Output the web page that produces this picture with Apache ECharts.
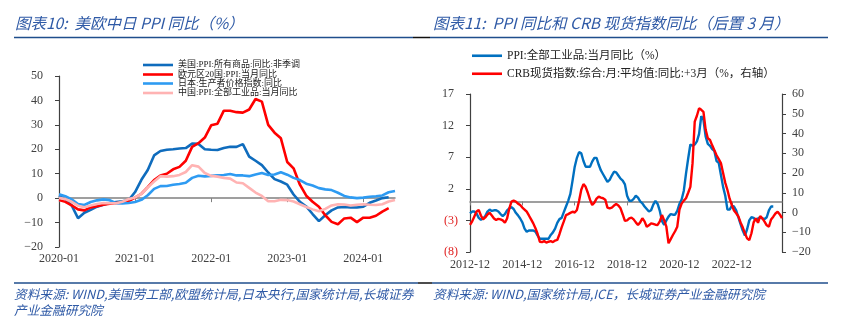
<!DOCTYPE html>
<html><head><meta charset="utf-8">
<script src="https://cdn.jsdelivr.net/npm/echarts@6/dist/echarts.min.js"></script>
<style>html,body{margin:0;padding:0;background:#fff}#c{width:842px;height:325px}</style>
</head><body><div id="c"></div>
<script>
// ---------- categories ----------
function monthRange(y0, m0, y1, m1) {
  const out = [];
  let y = y0, m = m0;
  while (y < y1 || (y === y1 && m <= m1)) {
    out.push(y + '-' + (m < 10 ? '0' + m : '' + m));
    m++; if (m > 12) { m = 1; y++; }
  }
  return out;
}
const leftMonths = monthRange(2020, 1, 2024, 6);    // 54 months
const rightMonths = monthRange(2012, 12, 2024, 11); // 144 months

// ---------- left chart data (%) ----------
const usPPI = [1.0, -0.5, -3.0, -8.2, -6.0, -4.8, -3.5, -2.7, -2.0, -1.6, -1.3, -0.8,
  2.5, 7.5, 11.5, 17.5, 19.3, 19.8, 20.0, 20.3, 20.5, 22.3, 22.2, 20.0,
  19.8, 19.7, 20.5, 21.0, 21.0, 22.1, 17.0, 15.3, 13.5, 10.5, 7.8, 6.8,
  5.5, 1.5, -1.5, -3.4, -6.5, -9.4, -7.0, -5.0, -3.8, -3.6, -3.8, -3.8,
  -3.5, -1.9, -1.0, 0.0, 0.4];
const euroPPI = [-0.8, -1.5, -3.0, -4.6, -5.0, -3.8, -3.3, -2.7, -2.3, -2.0, -1.9, -1.2,
  0.2, 1.8, 4.5, 7.4, 9.3, 10.0, 11.8, 12.8, 15.3, 21.0, 22.5, 24.8,
  29.8, 30.5, 35.8, 35.8, 35.2, 35.0, 36.3, 40.6, 39.5, 30.0, 26.8, 24.5,
  14.8, 12.2, 5.5, 1.0, -1.5, -3.5, -7.0, -9.7, -10.7, -8.3, -8.0, -9.8,
  -8.0, -8.0, -7.2, -5.5, -4.1];
const japanPPI = [1.6, 0.8, -0.5, -2.4, -2.8, -1.6, -0.9, -0.5, -0.8, -2.1, -2.2, -2.0,
  -1.6, -0.7, 1.2, 3.8, 4.9, 5.0, 5.5, 5.8, 6.3, 8.3, 9.2, 8.9,
  9.1, 9.4, 9.5, 9.9, 9.3, 9.3, 9.0, 9.7, 10.3, 9.5, 9.7, 10.6,
  9.6, 8.3, 7.4, 5.9, 5.2, 4.1, 3.6, 3.3, 2.2, 0.9, 0.3, 0.0,
  0.2, 0.6, 0.8, 1.1, 2.4, 2.9];
const chinaPPI = [0.1, -0.4, -1.5, -3.1, -3.7, -3.0, -2.4, -2.0, -2.1, -2.1, -1.5, -0.4,
  0.3, 1.7, 4.4, 6.8, 9.0, 8.8, 9.0, 9.5, 10.7, 13.5, 12.9, 10.3,
  9.1, 8.8, 8.3, 8.0, 6.4, 6.1, 4.2, 2.3, 0.9, -1.3, -1.3, -0.7,
  -0.8, -1.4, -2.5, -3.6, -4.6, -5.4, -4.4, -3.0, -2.5, -2.6, -3.0, -2.7,
  -2.5, -2.7, -2.8, -2.5, -1.4, -0.8];

// ---------- right chart data ----------
const ppiAll = [-1.9,
  -1.6, -1.6, -1.9, -2.6, -2.9, -2.7, -2.3, -1.6, -1.3, -1.5, -1.4, -1.4,
  -1.6, -2.0, -2.3, -2.0, -1.4, -1.1, -0.9, -1.2, -1.8, -2.2, -2.7, -3.3,
  -4.3, -4.8, -4.6, -4.6, -4.6, -4.8, -5.4, -5.9, -5.9, -5.9, -5.9, -5.9,
  -5.3, -4.9, -4.3, -3.4, -2.8, -2.6, -1.7, -0.8, 0.1, 1.2, 3.3, 5.5,
  6.9, 7.8, 7.6, 6.4, 5.5, 5.5, 5.5, 6.3, 6.9, 6.9, 5.8, 4.9,
  4.3, 3.7, 3.1, 3.4, 4.1, 4.7, 4.6, 4.1, 3.6, 3.3, 2.7, 0.9,
  0.1, 0.1, 0.4, 0.9, 0.6, 0.0, -0.3, -0.8, -1.2, -1.6, -1.4, -0.5,
  0.1, -0.4, -1.5, -3.1, -3.7, -3.0, -2.4, -2.0, -2.1, -2.1, -1.5, -0.4,
  0.3, 1.7, 4.4, 6.8, 9.0, 8.8, 9.0, 9.5, 10.7, 13.5, 12.9, 10.3,
  9.1, 8.8, 8.3, 8.0, 6.4, 6.1, 4.2, 2.3, 0.9, -1.3, -1.3, -0.7,
  -0.8, -1.4, -2.5, -3.6, -4.6, -5.4, -4.4, -3.0, -2.5, -2.6, -3.0, -2.7,
  -2.5, -2.7, -2.8, -2.5, -1.4, -0.8, -0.8];
const crbSpot = [-6.3, -4.5, -2.0, 0.5, 1.3, -1.5, -3.5, -2.5, -1.0, -0.1, -1.5, -3.0,
  -3.8, -3.2, -3.5, -4.0, -5.2, -3.0, 2.0, 5.5, 6.0, 5.5, 4.5, 3.8,
  2.5, 1.5, 0.4, -1.5, -3.5, -5.5, -8.0, -10.9, -14.8, -15.0, -14.5, -15.2,
  -14.8, -14.5, -15.0, -14.2, -13.9, -11.0, -7.5, -4.5, -1.3, -0.8, -0.2, 0.4,
  0.0, 1.3, 6.0, 11.5, 14.4, 13.0, 10.0, 6.5, 3.8, 5.0, 7.0, 8.0,
  7.5, 7.2, 6.5, 2.5, 2.1, 2.5, 3.5, 4.3, 3.5, 2.1, -1.0, -4.2,
  -4.0, -3.0, -2.6, -3.5, -5.0, -6.3, -5.0, -2.9, -4.5, -7.2, -6.5, -5.5,
  -5.8, -6.2, -6.3, -4.5, -1.3, -4.0, -7.2, -15.6, -13.5, -11.4, -9.5, -7.2,
  1.5, 4.5, 6.0, 7.2, 10.0, 13.0, 25.0, 46.0, 49.0, 52.8, 52.0, 51.0,
  42.0, 37.6, 36.7, 34.0, 31.5, 29.0, 27.0, 25.0, 20.0, 15.0, 11.4, 7.0,
  3.8, 1.0, -0.4, -2.0, -5.0, -7.5, -10.5, -13.1, -14.0, -10.5, -5.0, -2.9,
  -5.2, -1.8, -3.0, -4.6, -6.5, -7.2, -3.5, -2.1, -0.5, 0.4, -1.0, -2.9];

// ---------- names / text ----------
const leftNames = ['美国:PPI:所有商品:同比:非季调', '欧元区20国:PPI:当月同比', '日本:生产者价格指数:同比', '中国:PPI:全部工业品:当月同比'];
const rightNames = ['PPI:全部工业品:当月同比（%）', 'CRB现货指数:综合:月:平均值:同比:+3月（%，右轴）'];
const leftTitle = '图表10:  美欧中日 PPI 同比（%）';
const rightTitle = '图表11:  PPI 同比和 CRB 现货指数同比（后置 3 月）';
const leftSource1 = '资料来源: WIND,美国劳工部,欧盟统计局,日本央行,国家统计局,长城证券';
const leftSource2 = '产业金融研究院';
const rightSource = '资料来源: WIND,国家统计局,ICE，长城证券产业金融研究院';

const SERIF = "'Liberation Serif','Noto Sans CJK SC',serif";
const CJK = "'Noto Sans CJK SC',sans-serif";
const LBL = '#404040';
const AX = '#404040';
const ZERO = '#808080';
const TITLE_C = '#2F5AA6';
const RULE_C = '#1F4E8C';

const leftColors = ['#0F6CBD', '#FF0000', '#2E9BF2', '#FFB3B3'];
const rightColors = ['#0070C0', '#FF0000'];

const minus = v => (v < 0 ? '\u2212' + Math.abs(v) : '' + v);

function legendItem(name, left, top, fs, w) {
  return {
    data: [name], left: left, top: top, orient: 'horizontal',
    icon: 'rect', itemWidth: w, itemHeight: 2.6, padding: 0,
    selectedMode: false,
    textStyle: { fontSize: fs, fontFamily: SERIF, color: '#222', lineHeight: fs,
      width: 274, overflow: 'truncate', ellipsis: '' }
  };
}

const chart = echarts.init(document.getElementById('c'), null, { renderer: 'canvas' });
chart.setOption({
  animation: false,
  backgroundColor: '#fff',
  grid: [
    { left: 59, top: 76, width: 336, height: 171, containLabel: false, outerBoundsMode: 'none' },
    { left: 470, top: 94, width: 312, height: 158, containLabel: false, outerBoundsMode: 'none' }
  ],
  legend: [
    legendItem(leftNames[0], 143, 60.5, 9, 30),
    legendItem(leftNames[1], 143, 70, 9, 30),
    legendItem(leftNames[2], 143, 79, 9, 30),
    legendItem(leftNames[3], 143, 88.5, 9, 30),
    legendItem(rightNames[0], 472, 50, 11.5, 30),
    legendItem(rightNames[1], 472, 68, 11.5, 30)
  ],
  xAxis: [
    { type: 'category', gridIndex: 0, data: leftMonths, boundaryGap: false, position: 'bottom',
      axisLine: { show: false, onZero: false }, axisTick: { show: false },
      axisLabel: { interval: 11, margin: 6, fontSize: 12, fontFamily: SERIF, color: LBL } },
    { type: 'category', gridIndex: 0, data: leftMonths, boundaryGap: false, position: 'bottom',
      axisLine: { show: true, onZero: true, lineStyle: { color: ZERO, width: 1.5 } },
      axisTick: { show: true, interval: 11, length: 4, lineStyle: { color: ZERO, width: 1 } },
      axisLabel: { show: false } },
    { type: 'category', gridIndex: 1, data: rightMonths, boundaryGap: false, position: 'bottom',
      axisLine: { show: false, onZero: false }, axisTick: { show: false },
      axisLabel: { interval: 23, margin: 7, fontSize: 12, fontFamily: SERIF, color: LBL } },
    { type: 'category', gridIndex: 1, data: rightMonths, boundaryGap: false, position: 'bottom',
      axisLine: { show: true, onZero: true, onZeroAxisIndex: 2, lineStyle: { color: ZERO, width: 1.5 } },
      axisTick: { show: true, interval: 23, length: 4, lineStyle: { color: ZERO, width: 1 } },
      axisLabel: { show: false } }
  ],
  yAxis: [
    { type: 'value', gridIndex: 0, min: -20, max: 50, interval: 10, position: 'left',
      splitLine: { show: false },
      axisLine: { show: true, onZero: false, lineStyle: { color: AX, width: 1.2 } },
      axisTick: { show: true, length: 4, lineStyle: { color: AX } },
      axisLabel: { margin: 16, fontSize: 12, fontFamily: SERIF, color: LBL, formatter: minus } },
    { type: 'value', gridIndex: 0, show: false, min: -20, max: 50 },
    { type: 'value', gridIndex: 1, min: -8, max: 17, interval: 5, position: 'left',
      splitLine: { show: false },
      axisLine: { show: true, onZero: false, lineStyle: { color: AX, width: 1.2 } },
      axisTick: { show: true, length: 4, lineStyle: { color: AX } },
      axisLabel: { margin: 12, fontSize: 12, fontFamily: SERIF, color: LBL,
        formatter: v => (v < 0 ? '{n|(' + Math.abs(v) + ')}' : '{p|' + v + '}'),
        rich: {
          n: { color: '#E02020', fontSize: 12, fontFamily: SERIF },
          p: { color: LBL, fontSize: 12, fontFamily: SERIF, padding: [0, 4, 0, 0] }
        } } },
    { type: 'value', gridIndex: 1, min: -20, max: 60, interval: 10, position: 'right',
      splitLine: { show: false },
      axisLine: { show: true, onZero: false, lineStyle: { color: AX, width: 1.2 } },
      axisTick: { show: true, length: 4, lineStyle: { color: AX } },
      axisLabel: { margin: 10, fontSize: 12, fontFamily: SERIF, color: LBL, formatter: minus } }
  ],
  series: [
    { name: leftNames[0], type: 'line', xAxisIndex: 0, yAxisIndex: 0, data: usPPI, symbol: 'none',
      lineStyle: { color: leftColors[0], width: 2.6 }, itemStyle: { color: leftColors[0] } },
    { name: leftNames[1], type: 'line', xAxisIndex: 0, yAxisIndex: 0, data: euroPPI, symbol: 'none',
      lineStyle: { color: leftColors[1], width: 2.6 }, itemStyle: { color: leftColors[1] } },
    { name: leftNames[2], type: 'line', xAxisIndex: 0, yAxisIndex: 0, data: japanPPI, symbol: 'none',
      lineStyle: { color: leftColors[2], width: 2.6 }, itemStyle: { color: leftColors[2] } },
    { name: leftNames[3], type: 'line', xAxisIndex: 0, yAxisIndex: 0, data: chinaPPI, symbol: 'none',
      lineStyle: { color: leftColors[3], width: 2.6 }, itemStyle: { color: leftColors[3] } },
    { name: rightNames[0], type: 'line', xAxisIndex: 2, yAxisIndex: 2, data: ppiAll, symbol: 'none',
      lineStyle: { color: rightColors[0], width: 2.4 }, itemStyle: { color: rightColors[0] } },
    { name: rightNames[1], type: 'line', xAxisIndex: 2, yAxisIndex: 3, data: crbSpot, symbol: 'none',
      lineStyle: { color: rightColors[1], width: 2.4 }, itemStyle: { color: rightColors[1] } }
  ],
  graphic: [
    { type: 'text', left: 15, top: 15, style: { text: leftTitle, fill: TITLE_C,
      font: 'italic 15.5px ' + CJK } },
    { type: 'text', left: 433, top: 15, style: { text: rightTitle, fill: TITLE_C,
      font: 'italic 15.5px ' + CJK } },
    { type: 'line', shape: { x1: 14, y1: 37.5, x2: 413, y2: 37.5 }, style: { stroke: RULE_C, lineWidth: 1.5 } },
    { type: 'line', shape: { x1: 413, y1: 37.5, x2: 430, y2: 37.5 }, style: { stroke: '#111', lineWidth: 1.5 } },
    { type: 'line', shape: { x1: 430, y1: 37.5, x2: 828, y2: 37.5 }, style: { stroke: RULE_C, lineWidth: 1.5 } },
    { type: 'line', shape: { x1: 14, y1: 283, x2: 418, y2: 283 }, style: { stroke: RULE_C, lineWidth: 1.5 } },
    { type: 'line', shape: { x1: 418, y1: 283, x2: 432, y2: 283 }, style: { stroke: '#111', lineWidth: 1.5 } },
    { type: 'line', shape: { x1: 432, y1: 283, x2: 828, y2: 283 }, style: { stroke: RULE_C, lineWidth: 1.5 } },
    { type: 'text', left: 14, top: 288, style: { text: leftSource1, fill: TITLE_C, font: 'italic 12.7px ' + CJK } },
    { type: 'text', left: 14, top: 304, style: { text: leftSource2, fill: TITLE_C, font: 'italic 12.7px ' + CJK } },
    { type: 'text', left: 433, top: 288, style: { text: rightSource, fill: TITLE_C, font: 'italic 12.7px ' + CJK } }
  ]
});
</script>
</body></html>
